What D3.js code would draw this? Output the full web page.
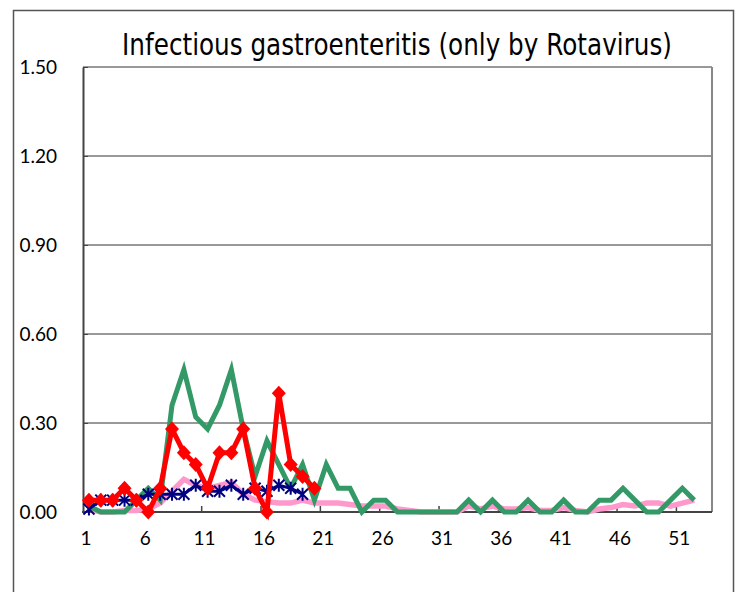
<!DOCTYPE html>
<html>
<head>
<meta charset="utf-8">
<script src="https://cdn.jsdelivr.net/npm/d3@7"></script>
<style>
  body { margin: 0; background: #fff; }
  text { font-family: Lato, "DejaVu Sans", sans-serif; fill: #000; }
</style>
</head>
<body>
<div class="canvas"></div>
<script>
// week categories (53 slots, last one empty) and tick labels
const weeks = d3.range(1, 54);
const weekTicks = [1, 6, 11, 16, 21, 26, 31, 36, 41, 46, 51];
const yTicks = [0, 0.3, 0.6, 0.9, 1.2, 1.5];

// series values per week
const greenVals = [0.02, 0, 0, 0, 0.04, 0.08, 0.04, 0.36, 0.48, 0.32, 0.28, 0.36, 0.48, 0.28, 0.12, 0.24,
  0.16, 0.08, 0.16, 0.04, 0.16, 0.08, 0.08, 0, 0.04, 0.04, 0, 0, 0, 0, 0, 0, 0.04, 0, 0.04, 0, 0, 0.04,
  0, 0, 0.04, 0, 0, 0.04, 0.04, 0.08, 0.04, 0, 0, 0.04, 0.08, 0.04];
const pinkVals = [0.01, 0, 0, 0.005, 0.005, 0.01, 0.03, 0.07, 0.11, 0.09, 0.08, 0.09, 0.1, 0.06, 0.04, 0.035,
  0.03, 0.03, 0.04, 0.03, 0.03, 0.03, 0.025, 0.02, 0.02, 0.02, 0.01, 0.005, 0, 0, 0, 0, 0.02, 0.01, 0.02,
  0.01, 0.01, 0.015, 0.005, 0.005, 0.015, 0.005, 0, 0.01, 0.015, 0.025, 0.02, 0.03, 0.03, 0.02, 0.03, 0.04];
const navyVals = [0.01, 0.04, 0.04, 0.04, 0.04, 0.06, 0.06, 0.06, 0.06, 0.09, 0.07, 0.07, 0.09, 0.06, 0.08,
  0.07, 0.09, 0.08, 0.06];
const redVals = [0.04, 0.04, 0.04, 0.08, 0.04, 0, 0.08, 0.28, 0.2, 0.16, 0.08, 0.2, 0.2, 0.28, 0.08, 0, 0.4,
  0.16, 0.12, 0.08];

// dimensions
const w = 744;
const h = 592;
const plot = { left: 83, right: 712, top: 67, bottom: 512 };

const svg = d3.select(".canvas").append("svg").attr("width", w).attr("height", h);

// outer chart border
svg.append("rect")
  .attr("x", 13.5).attr("y", 10.5)
  .attr("width", 720).attr("height", 640)
  .attr("fill", "none").attr("stroke", "#555").attr("stroke-width", 1.5);

// title, squeezed horizontally to the reference width
const title = svg.append("text")
  .attr("text-anchor", "middle")
  .style("font-family", "'DejaVu Sans', sans-serif")
  .style("font-size", "31px")
  .text("Infectious gastroenteritis (only by Rotavirus)");
const titleLen = title.node().getComputedTextLength();
title.attr("transform", `translate(397, 55) scale(${550 / titleLen}, 1)`);

// scales
const x = d3.scaleBand().domain(weeks).range([plot.left, plot.right]).padding(0);
const y = d3.scaleLinear().domain([0, 1.5]).range([plot.bottom, plot.top]);
const cx = (i) => x(i + 1) + x.bandwidth() / 2;

// gridlines
svg.append("g")
  .selectAll("line")
  .data(yTicks.slice(1))
  .enter()
  .append("line")
  .attr("x1", plot.left).attr("x2", plot.right)
  .attr("y1", (d) => y(d)).attr("y2", (d) => y(d))
  .attr("stroke", "#333").attr("stroke-width", 1);

// right plot border
svg.append("line")
  .attr("x1", plot.right).attr("x2", plot.right)
  .attr("y1", plot.top).attr("y2", plot.bottom)
  .attr("stroke", "#888").attr("stroke-width", 2);

// y axis
const yAxis = d3.axisLeft(y).tickValues(yTicks).tickFormat(d3.format(".2f"))
  .tickSizeInner(-5).tickSizeOuter(0).tickPadding(26);
const gy = svg.append("g").attr("transform", `translate(${plot.left}, 0)`).call(yAxis);
gy.attr("font-family", null);
gy.select(".domain").attr("stroke", "#444").attr("stroke-width", 2);
gy.selectAll(".tick line").attr("stroke", "#444");
gy.selectAll("text").style("font-size", "19px").attr("fill", "#000");

// x axis labels (centred on weeks) and ticks at category boundaries
const xAxis = d3.axisBottom(x).tickValues(weekTicks).tickSize(0).tickPadding(20);
const gx = svg.append("g").attr("transform", `translate(0, ${plot.bottom})`).call(xAxis);
gx.attr("font-family", null);
gx.select(".domain").remove();
gx.selectAll("text").style("font-size", "19px").attr("fill", "#000").attr("dx", -3);

svg.append("line")
  .attr("x1", plot.left - 1).attr("x2", plot.right)
  .attr("y1", plot.bottom).attr("y2", plot.bottom)
  .attr("stroke", "#444").attr("stroke-width", 2);
svg.append("g")
  .selectAll("line")
  .data(weekTicks.slice(1))
  .enter()
  .append("line")
  .attr("x1", (d) => x(d)).attr("x2", (d) => x(d))
  .attr("y1", plot.bottom).attr("y2", plot.bottom - 6)
  .attr("stroke", "#444").attr("stroke-width", 1.5);

// lines
const line = d3.line().x((d, i) => cx(i)).y((d) => y(d));

const drawLine = (vals, color, width) =>
  svg.append("path")
    .datum(vals)
    .attr("d", line)
    .attr("fill", "none")
    .attr("stroke", color)
    .attr("stroke-width", width)
    .attr("stroke-linejoin", "miter");

drawLine(pinkVals, "#ff99cc", 5.5);
drawLine(greenVals, "#339966", 5);
drawLine(navyVals, "#000080", 3);

// asterisk markers for navy series
svg.append("g")
  .selectAll("path")
  .data(navyVals)
  .enter()
  .append("path")
  .attr("transform", (d, i) => `translate(${cx(i)}, ${y(d)})`)
  .attr("d", "M0,-6.5V6.5M-5.5,-5.5L5.5,5.5M-5.5,5.5L5.5,-5.5")
  .attr("stroke", "#000080")
  .attr("stroke-width", 2);

drawLine(redVals, "#ff0000", 5);

// diamond markers for red series
svg.append("g")
  .selectAll("path")
  .data(redVals)
  .enter()
  .append("path")
  .attr("transform", (d, i) => `translate(${cx(i)}, ${y(d)})`)
  .attr("d", "M0,-7.5L7,0L0,7.5L-7,0Z")
  .attr("fill", "#ff0000");
</script>
</body>
</html>
